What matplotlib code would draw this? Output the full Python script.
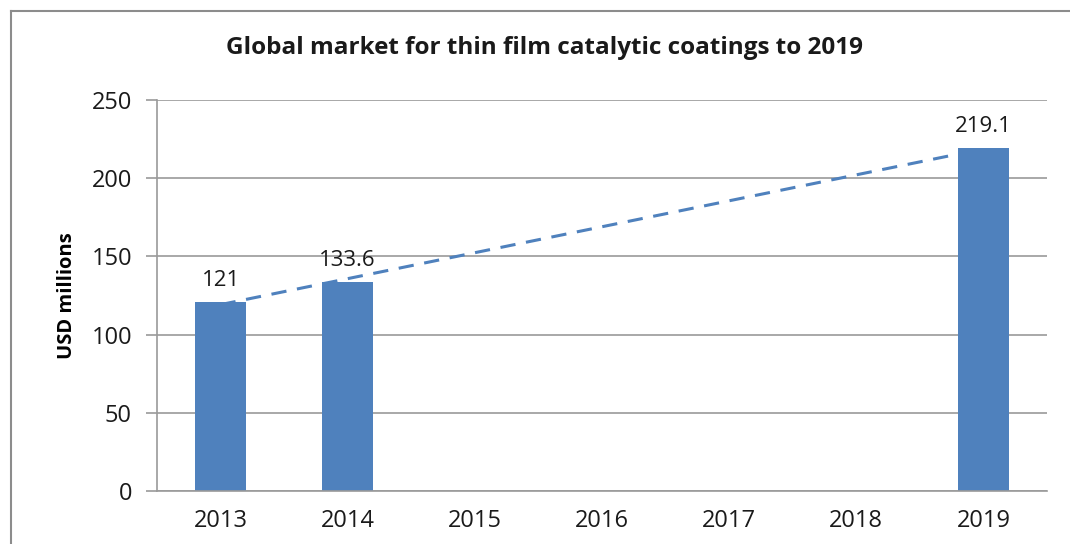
import matplotlib
matplotlib.use("Agg")
import matplotlib.pyplot as plt
import numpy as np
from matplotlib.lines import Line2D

title = "Global market for thin film catalytic coatings to 2019"
years = ["2013", "2014", "2015", "2016", "2017", "2018", "2019"]
bar_years = ["2013", "2014", "2019"]
bar_values = [121, 133.6, 219.1]
bar_labels = ["121", "133.6", "219.1"]
ylabel = "USD millions"
yticks = [0, 50, 100, 150, 200, 250]

plt.rcParams['font.family'] = ['Open Sans', 'DejaVu Sans']

W, H = 1070, 544
fig = plt.figure(figsize=(W / 100, H / 100), dpi=100)
fig.patch.set_facecolor("white")

# outer frame (top and left edges visible)
fy = 1 - 10.5 / H
fx = 10.5 / W
fig.lines.append(Line2D([fx, 1.0], [fy, fy], transform=fig.transFigure,
                        color="#8c8c8c", linewidth=1.5))
fig.lines.append(Line2D([fx, fx], [0.0, fy], transform=fig.transFigure,
                        color="#8c8c8c", linewidth=1.5))

left, right, top, bottom = 157, 1047, 100, 491
ax = fig.add_axes([left / W, 1 - bottom / H, (right - left) / W, (bottom - top) / H])

color = "#4F81BD"
xpos = {y: i for i, y in enumerate(years)}
bx = [xpos[y] for y in bar_years]
ax.bar(bx, bar_values, width=0.4, color=color, zorder=2)

# linear trendline
coef = np.polyfit(bx, bar_values, 1)
tx = np.array([bx[0], bx[-1]])
ax.plot(tx, np.polyval(coef, tx), linestyle=(0, (5, 3.5)), color=color, linewidth=2.2, zorder=3)

for x, v, lab in zip(bx, bar_values, bar_labels):
    ax.text(x, v + 7, lab, ha="center", va="bottom", fontsize=16, color="#1a1a1a")

ax.set_xlim(-0.5, len(years) - 0.5)
ax.set_ylim(0, 250)
ax.set_yticks(yticks)
ax.set_xticks(range(len(years)))
ax.set_xticklabels(years)
ax.yaxis.grid(True, color="#9a9a9a", linewidth=1.2, zorder=0)
ax.set_axisbelow(True)
for s in ["top", "right"]:
    ax.spines[s].set_visible(False)
for s in ["left", "bottom"]:
    ax.spines[s].set_color("#9a9a9a")
    ax.spines[s].set_linewidth(1.2)
ax.tick_params(axis="y", length=8, width=1.2, color="#9a9a9a", labelsize=17, pad=10, labelcolor="#1a1a1a")
ax.tick_params(axis="x", length=0, labelsize=17, pad=13, labelcolor="#1a1a1a")

ax.set_ylabel(ylabel, fontsize=14.5, fontweight="bold", labelpad=10)

fig.text(0.5 * (218 + 870) / W, 1 - 48 / H, title, ha="center", va="center",
         fontsize=17.5, fontweight="bold", color="#1a1a1a")

fig.savefig("out.png", dpi=100)
